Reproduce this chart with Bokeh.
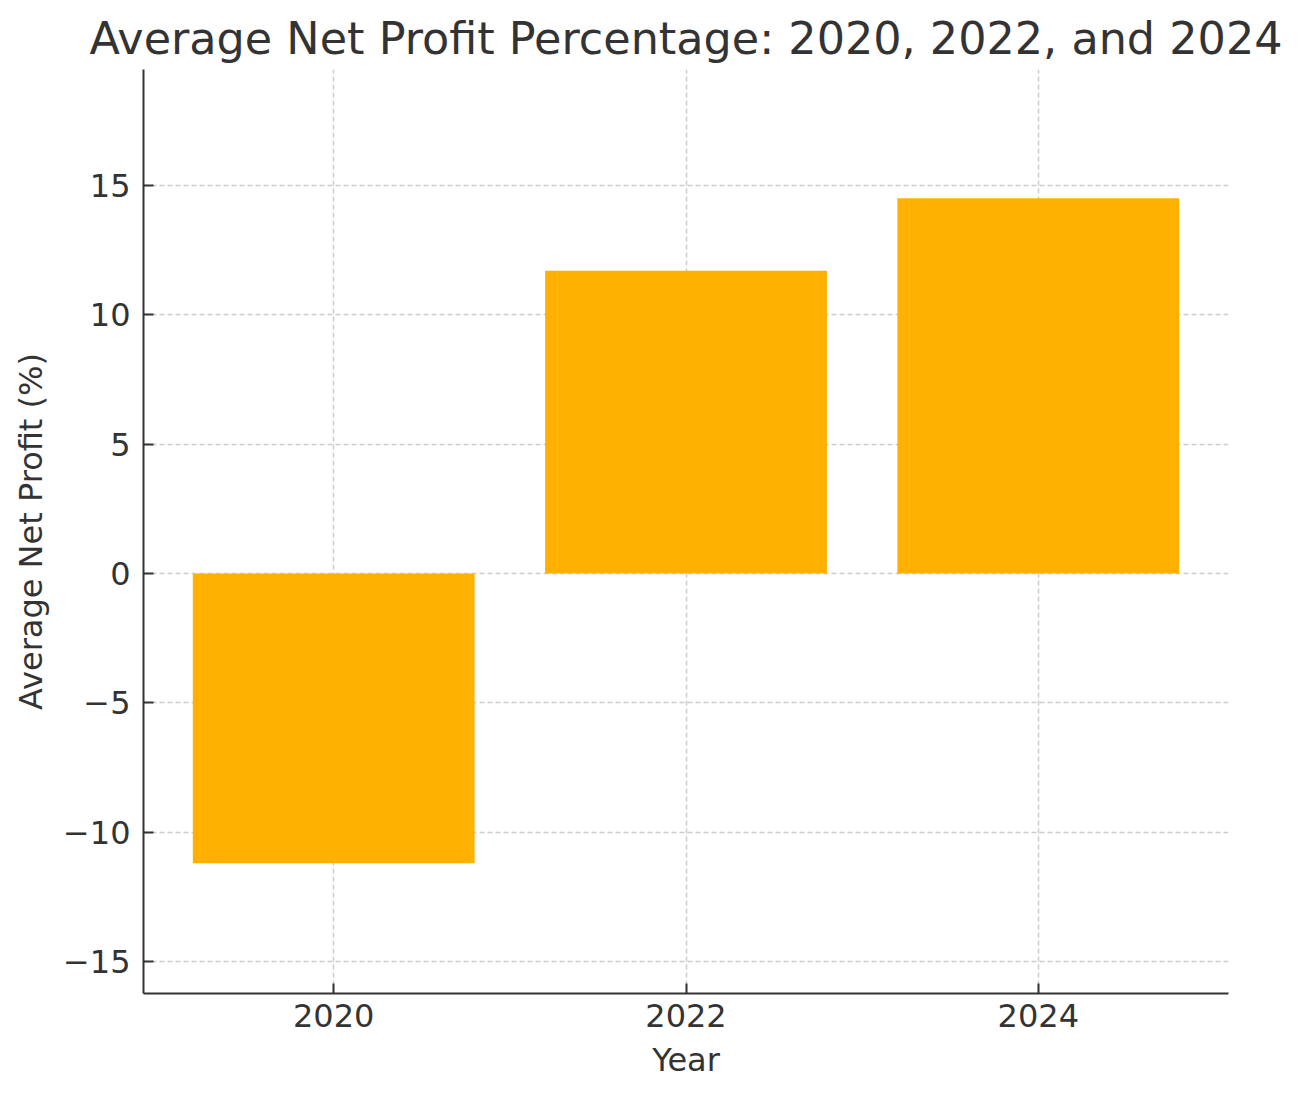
from bokeh.plotting import figure
from bokeh.models import Range1d, FixedTicker, ColumnDataSource
from bokeh.embed import file_html
from bokeh.resources import INLINE

# ---- data ----
years = ["2020", "2022", "2024"]
net_profit = [-11.2, 11.7, 14.5]
y_ticks = [-15, -10, -5, 0, 5, 10, 15]

x_pos = list(range(len(years)))
src = ColumnDataSource(dict(x=x_pos, top=net_profit, year=years))

FONT = "DejaVu Sans"
TXT = "#333333"

p = figure(width=1287, height=1085, output_backend="svg", toolbar_location=None,
           x_range=Range1d(-0.54, 2.54), y_range=Range1d(-16.23, 19.48),
           min_border_left=143, min_border_right=59, min_border_top=69, min_border_bottom=92,
           title="Average Net Profit Percentage: 2020, 2022, and 2024")

p.vbar(x="x", top="top", bottom=0, width=0.8, source=src,
       fill_color="#FFB000", line_color=None)

p.title.text_font = FONT
p.title.text_font_size = "44.5px"
p.title.text_font_style = "normal"
p.title.text_color = TXT
p.title.align = "center"
p.title.standoff = 12

p.outline_line_color = None
p.background_fill_color = "white"
p.border_fill_color = "white"

# axes
p.xaxis.ticker = FixedTicker(ticks=x_pos)
p.xaxis.major_label_overrides = {i: y for i, y in zip(x_pos, years)}
p.yaxis.ticker = FixedTicker(ticks=y_ticks)
p.yaxis.major_label_overrides = {t: (str(t).replace("-", "\u2212")) for t in y_ticks}

p.xaxis.axis_label = "Year"
p.yaxis.axis_label = "Average Net Profit (%)"

for ax in (p.xaxis, p.yaxis):
    ax.axis_line_color = TXT
    ax.axis_line_width = 2
    ax.major_tick_line_color = TXT
    ax.major_tick_line_width = 2
    ax.major_tick_in = 10
    ax.major_tick_out = 0
    ax.minor_tick_line_color = None
    ax.major_label_text_font = FONT
    ax.major_label_text_font_size = "32px"
    ax.major_label_text_color = TXT
    ax.axis_label_text_font = FONT
    ax.axis_label_text_font_size = "32px"
    ax.axis_label_text_font_style = "normal"
    ax.axis_label_text_color = TXT

p.xaxis.major_label_standoff = 10
p.xaxis.axis_label_standoff = 11
p.yaxis.major_label_standoff = 13
p.yaxis.axis_label_standoff = 10

for g in (p.xgrid, p.ygrid):
    g.grid_line_color = "#cccccc"
    g.grid_line_width = 1.5
    g.grid_line_dash = "5 3"
p.xgrid.ticker = FixedTicker(ticks=x_pos)
p.ygrid.ticker = FixedTicker(ticks=y_ticks)

open("out.html", "w").write(file_html(p, INLINE))
